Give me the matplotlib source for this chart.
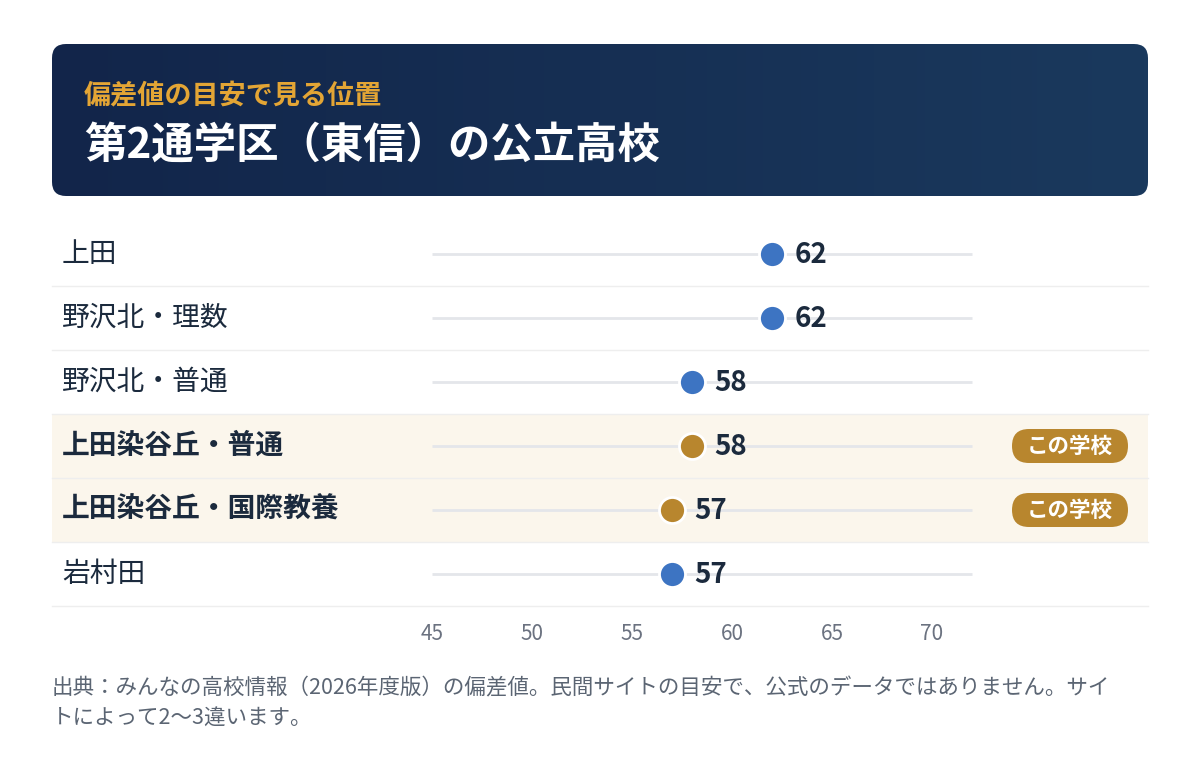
import numpy as np
import matplotlib.pyplot as plt
import matplotlib.transforms as mtransforms
from matplotlib.patches import FancyBboxPatch
from matplotlib.colors import LinearSegmentedColormap

plt.rcParams['font.family'] = ['Noto Sans CJK JP', 'DejaVu Sans']

# data
schools = ["上田", "野沢北・理数", "野沢北・普通", "上田染谷丘・普通", "上田染谷丘・国際教養", "岩村田"]
scores = [62, 62, 58, 58, 57, 57]
is_ours = [False, False, False, True, True, False]
ticks = [45, 50, 55, 60, 65, 70]
subtitle = "偏差値の目安で見る位置"
title = "第2通学区（東信）の公立高校"
note_lines = ["出典：みんなの高校情報（2026年度版）の偏差値。民間サイトの目安で、公式のデータではありません。サイ",
              "トによって2〜3違います。"]
badge_text = "この学校"

W, H = 1200, 772
NAVY = "#1b2a3d"
BLUE = "#3d74c2"
GOLD = "#b8862e"
HILITE = "#fbf6ec"


def box(x0, y0, x1, y1):
    return [x0 / W, 1 - y1 / H, (x1 - x0) / W, (y1 - y0) / H]


fig = plt.figure(figsize=(12, 7.72), dpi=100)
fig.patch.set_facecolor("white")

# header panel with gradient
hax = fig.add_axes(box(52, 44, 1148, 196))
hax.set_xlim(0, 1096)
hax.set_ylim(0, 152)
hax.axis("off")
cmap = LinearSegmentedColormap.from_list("hdr", ["#12254a", "#1a395d"])
grad = np.linspace(0, 1, 256).reshape(1, -1)
img = hax.imshow(grad, cmap=cmap, extent=(0, 1096, 0, 152), aspect="auto")
panel = FancyBboxPatch((0, 0), 1096, 152, boxstyle="round,pad=0,rounding_size=14",
                       fc="none", ec="none")
hax.add_patch(panel)
img.set_clip_path(panel)
hax.text(32, 101, subtitle, color="#e3a535", fontsize=19.5, fontweight="bold", va="center")
hax.text(32, 50, title, color="white", fontsize=30.5, fontweight="bold", va="center")

# dot plot
ax = fig.add_axes(box(52, 222, 1148, 606))
n = len(schools)
ax.set_xlim(45 - 380 / 20, 45 + 716 / 20)
ax.set_ylim(n - 0.5, -0.5)
for s in ax.spines.values():
    s.set_visible(False)
ax.set_yticks([])
ax.set_xticks(ticks)
ax.tick_params(axis="x", length=0, pad=12, labelsize=15, labelcolor="#6b7280")

ytr = ax.get_yaxis_transform()
badge_x = (1070 - 52) / 1096
for i, (name, v, ours) in enumerate(zip(schools, scores, is_ours)):
    if ours:
        ax.axhspan(i - 0.5, i + 0.5, color=HILITE, zorder=0, lw=0)
    ax.axhline(i + 0.5, color="#eeeeee", lw=1, zorder=1, clip_on=False)
    ax.plot([45, 72], [i, i], color="#e4e6ea", lw=2, zorder=2, solid_capstyle="butt")
    c = GOLD if ours else BLUE
    ax.scatter(v, i, s=350, color=c, edgecolor="white", linewidth=2, zorder=4)
    ax.annotate(str(v), (v, i), xytext=(16, -1), textcoords="offset points",
                va="center", ha="left", fontsize=20, fontweight="bold", color=NAVY, zorder=5)
    ax.text(10 / 1096, i, name, transform=ytr, va="center", ha="left", fontsize=20,
            fontweight="bold" if ours else "normal", color=NAVY)
    if ours:
        # pill badge, sized in pixels around the row centre
        cx, cy = ytr.transform((badge_x, i))
        pill = FancyBboxPatch((cx - 58, cy - 17), 116, 34,
                              boxstyle="round,pad=0,rounding_size=17", fc=GOLD, ec="none",
                              transform=mtransforms.IdentityTransform(), zorder=6)
        ax.add_artist(pill)
        pill.set_clip_on(False)
        ax.text(badge_x, i, badge_text, transform=ytr, va="center", ha="center",
                fontsize=15.5, fontweight="bold", color="white", zorder=7)

# footnote
for k, line in enumerate(note_lines):
    fig.text(52 / W, 1 - (688 + 31 * k) / H, line, fontsize=15.5, color="#5b6573", va="center")

fig.savefig("out.png", dpi=100)
